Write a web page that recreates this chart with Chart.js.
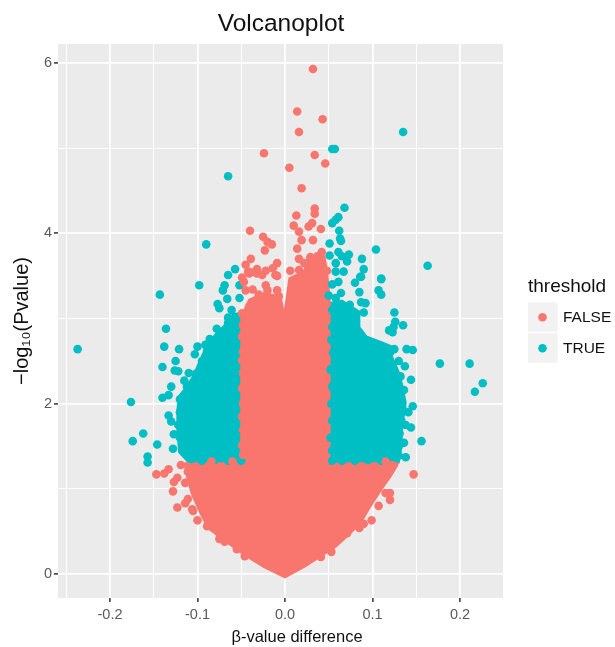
<!DOCTYPE html>
<html>
<head>
<meta charset="utf-8">
<style>html,body{margin:0;padding:0;background:#fff}canvas{display:block}</style>
<script src="https://cdn.jsdelivr.net/npm/chart.js@4"></script>
</head>
<body>
<canvas id="c" width="615" height="647"></canvas>
<script>
const seriesNames = ['FALSE', 'TRUE'];
const seriesColors = ['#F8766D', '#00BFC4'];
const legendTitle = 'threshold';
const xAxisTitle = 'β-value difference';
const xTickValues = [-0.2, -0.1, 0, 0.1, 0.2];
const xTickLabels = ['-0.2', '-0.1', '0.0', '0.1', '0.2'];
const yTickValues = [0, 2, 4, 6];
const yTickLabels = ['0', '2', '4', '6'];

// Points that can be told apart in the picture
const falsePoints = [
[.032,5.93],[.014,5.43],[.043,5.34],[.016,5.19],[-.024,4.94],[.034,4.92],[.005,4.77],[.046,4.82],[.019,4.53],
[-.040,4.03],[-.025,3.96],[-.020,3.90],[-.015,3.87],[-.023,3.80],[-.039,3.70],[-.045,3.63],[-.042,3.55],[-.032,3.58],
[-.022,3.56],[-.009,3.65],[-.014,3.59],[-.039,3.54],[-.026,3.51],[-.009,3.50],[-.049,3.48],
[.034,4.29],[.034,4.23],[.013,4.21],[.031,4.12],[.027,4.08],[.010,4.09],[.016,4.02],[.041,4.05],[.019,3.92],[.032,3.92],
[.014,3.82],[.016,3.70],[.029,3.72],[.042,3.78],[.037,3.73],[.041,3.69],[.022,3.65],[.006,3.56],[.048,3.56],[.043,3.56],
[.031,3.61],[.016,3.57],[.024,3.53],
[-.047,3.43],[-.045,3.33],[-.037,3.34],[-.030,3.28],[-.022,3.39],[-.020,3.33],[-.009,3.33],[-.007,3.26],[-.032,3.53],
[-.011,3.51],[-.041,3.53],[-.041,3.14],[-.049,3.06],[-.048,2.92],[-.049,2.79],[-.048,2.61],[-.049,2.51],[-.048,2.36],
[-.049,2.18],[-.048,2.0],[-.049,1.85],[-.048,1.69],[-.049,1.51],[-.048,1.4],[-.026,3.18],
[-.147,1.17],[-.138,1.18],[-.133,1.23],[-.127,1.08],[-.123,1.13],[-.128,.97],[-.114,1.07],[-.111,.88],[-.114,.83],
[-.123,.78],[-.119,1.28],[-.106,.76],[-.105,.74],[-.100,.63],[-.089,.56],[-.075,.41],[-.069,.38],[-.055,.29],[-.046,.21],
[.147,1.17],[.115,.95],[.120,.95],[.120,.87],[.107,.80],[.099,.63],[.085,.54],[.090,.59],[.053,.26],[.041,.20],[.071,.48],
[-.084,1.32],[-.060,1.32],[.115,1.32],
[-.111,1.2],[-.108,1.1],[-.103,.98],[-.094,.85],[-.086,.72],[-.074,.6],[-.058,.48],[-.041,.33],[-.026,.22],[-.012,.12],
[0,.04],[.012,.14],[.025,.23],[.04,.33],[.055,.42],[.07,.56],[.08,.68],[.09,.81],[.098,.97],[.106,1.09],[.116,1.21],[.123,1.28]
];
const truePoints = [
[.135,5.19],[.054,4.99],[.057,4.99],[-.065,4.67],[.068,4.30],[.061,4.19],[.058,4.16],[.054,4.12],[.062,4.03],[.063,3.94],
[.064,3.91],[.051,3.88],[.104,3.81],[-.090,3.87],[.163,3.62],[.061,3.78],[.051,3.74],[.073,3.75],[.088,3.70],[.090,3.58],
[.086,3.49],[.110,3.47],[.071,3.67],[.065,3.73],[.058,3.65],[.067,3.55],[.058,3.55],[-.057,3.58],[-.065,3.51],[-.143,3.28],
[-.098,3.39],[-.071,3.33],[-.069,3.39],[-.052,3.39],[-.066,3.23],[-.052,3.24],[-.077,3.17],[-.075,3.12],[-.061,3.10],
[-.065,3.01],[-.078,2.88],[-.086,2.76],[-.091,2.69],[-.136,2.88],[-.138,2.67],[-.121,2.64],[-.237,2.64],[-.125,2.50],
[-.140,2.43],[-.126,2.39],[-.122,2.38],[-.110,2.36],[-.115,2.27],[-.130,2.20],[-.133,2.10],[-.140,2.07],[-.176,2.02],
[-.133,1.86],[-.130,1.79],[-.162,1.65],[-.174,1.56],[-.146,1.52],[-.127,1.64],[-.128,1.47],[-.157,1.38],[-.157,1.31],
[-.100,2.67],[-.103,2.58],
[.110,3.46],[.107,3.33],[.110,3.28],[.087,3.49],[.080,3.42],[.085,3.31],[.061,3.43],[.054,3.40],[.050,3.27],[.064,3.30],
[.087,3.19],[.092,3.18],[.074,3.16],[.090,3.07],[.125,3.07],[.126,2.96],[.135,2.92],[.119,2.86],[.123,2.84],[.124,2.90],
[.139,2.64],[.146,2.63],[.125,2.64],[.130,2.50],[.137,2.44],[.144,2.28],[.132,2.32],[.177,2.47],[.211,2.47],[.226,2.24],
[.217,2.14],[.146,1.97],[.141,1.90],[.136,2.16],[.144,1.72],[.156,1.56],[.138,1.37],[.136,1.54],[.138,1.75],
[-.120,2.05],[-.120,1.9],[-.122,1.75],[-.120,1.6],[-.117,1.45],[-.107,1.35],[-.095,1.33],[-.08,1.34],[-.065,1.33],[-.05,1.33],
[-.112,2.2],[-.102,2.35],[-.095,2.5],[-.089,2.62],[-.08,2.72],[-.072,2.82],[-.065,2.95],[-.057,3.02],
[.054,1.33],[.065,1.33],[.08,1.33],[.095,1.34],[.11,1.33],[.125,1.35],[.130,1.39],[.130,1.5],[.131,1.65],[.133,1.8],[.134,1.95],
[.132,2.1],[.127,2.2],[.122,2.35],[.117,2.5],[.112,2.6],[.102,2.66],[.092,2.72],[.082,2.78],[.078,2.88],[.079,3.0],[.07,3.06],[.06,3.12],[.054,3.1],
[.054,2.9],[.053,2.75],[.055,2.6],[.052,2.4],[.054,2.2],[.053,2.0],[.054,1.8],[.052,1.6],[.054,1.45],[.058,3.24]
];

// Outlines of the areas where the points overlap into solid colour
const falseSolidOutline = [
[-.115,1.30],[-.111,1.10],[-.106,.93],[-.097,.72],[-.088,.54],[-.073,.42],[-.058,.31],[-.041,.19],[-.024,.08],[0,-.04],
[.023,.09],[.041,.21],[.058,.32],[.073,.46],[.087,.61],[.098,.80],[.110,.99],[.121,1.15],[.128,1.27],[.129,1.30],
[.051,1.30],[.051,3.22],[.048,3.57],[.045,3.73],[.026,3.71],[.022,3.56],[.005,3.47],[.002,3.25],[-.001,3.04],[-.005,3.26],
[-.024,3.30],[-.041,3.22],[-.047,3.08],[-.050,3.0],[-.050,1.30],[-.115,1.30]
];
const trueSolidLeft = [
[-.049,3.08],[-.061,3.03],[-.070,2.91],[-.079,2.82],[-.089,2.69],[-.098,2.49],[-.105,2.32],[-.114,2.18],[-.121,2.09],
[-.123,1.93],[-.123,1.69],[-.121,1.43],[-.110,1.31],[-.049,1.30],[-.049,3.08]
];
const trueSolidRight = [
[.050,3.18],[.065,3.21],[.085,3.08],[.085,2.90],[.093,2.79],[.111,2.72],[.127,2.65],[.122,2.56],[.125,2.49],[.130,2.37],
[.134,2.22],[.138,2.01],[.134,1.73],[.133,1.49],[.130,1.31],[.050,1.30],[.050,3.18]
];

const toXY = a => a.map(p => ({x: p[0], y: p[1]}));
const solid = (label, pts, color, order) => ({
  label, data: toXY(pts), showLine: true, fill: 'shape', tension: 0,
  borderColor: color, backgroundColor: color, borderWidth: 2, pointRadius: 0, pointHoverRadius: 0, order
});
const dots = (label, pts, color, order) => ({
  label, data: toXY(pts), pointStyle: 'circle', pointRadius: 4.3, pointHoverRadius: 4.3,
  pointBorderWidth: 0, borderWidth: 0, borderColor: color, backgroundColor: color, pointBackgroundColor: color, showLine: false, order
});
const near = (a, b) => Math.abs(a - b) < 1e-6;
const isMajor = (vals, v) => vals.some(t => near(t, v));
const labelFor = (vals, labels, v) => { const i = vals.findIndex(t => near(t, v)); return i < 0 ? '' : labels[i]; };

const panelAndLegend = {
  id: 'panelAndLegend',
  beforeDraw(chart) {
    const ctx = chart.ctx, a = chart.chartArea;
    ctx.save();
    ctx.fillStyle = '#ebebeb';
    ctx.fillRect(a.left, a.top, a.right - a.left, a.bottom - a.top);
    ctx.fillStyle = '#111';
    ctx.textBaseline = 'middle';
    ctx.textAlign = 'center';
    ctx.font = '16.5px "Liberation Sans"';
    ctx.fillText(xAxisTitle, 297, 637);
    ctx.textAlign = 'left';
    ctx.font = '19px "Liberation Sans"';
    ctx.fillText(legendTitle, 528, 287);
    seriesNames.forEach((name, i) => {
      const cy = 317.3 + i * 31;
      ctx.fillStyle = '#f2f2f2';
      ctx.fillRect(528, cy - 15, 29.5, 29.5);
      ctx.fillStyle = seriesColors[i];
      ctx.beginPath();
      ctx.arc(542.5, cy, 4.3, 0, Math.PI * 2);
      ctx.fill();
      ctx.fillStyle = '#111';
      ctx.font = '15.5px "Liberation Sans"';
      ctx.fillText(name, 563, cy);
    });
    ctx.restore();
  }
};

new Chart(document.getElementById('c'), {
  type: 'scatter',
  data: { datasets: [
    dots(seriesNames[0], falsePoints, seriesColors[0], 0),
    dots(seriesNames[1], truePoints, seriesColors[1], 1),
    solid('solid FALSE', falseSolidOutline, seriesColors[0], 2),
    solid('solid TRUE left', trueSolidLeft, seriesColors[1], 3),
    solid('solid TRUE right', trueSolidRight, seriesColors[1], 3)
  ]},
  plugins: [panelAndLegend],
  options: {
    responsive: false,
    animation: false,
    layout: { padding: { left: 0, right: 111, top: 0, bottom: 0 } },
    plugins: {
      tooltip: { enabled: false },
      legend: { display: false },
      title: {
        display: true, text: 'Volcanoplot', fullSize: false, color: '#111',
        font: { family: '"Liberation Sans"', size: 24.5, weight: 'normal', lineHeight: 1.2 },
        padding: { top: 10, bottom: 4.6 }
      }
    },
    scales: {
      x: {
        type: 'linear', min: -0.2594, max: 0.2503,
        afterFit: s => { s.height = 49; },
        grid: {
          color: '#fff', drawTicks: true, tickLength: 4,
          lineWidth: c => isMajor(xTickValues, c.tick.value) ? 1.8 : 1,
          tickColor: c => isMajor(xTickValues, c.tick.value) ? '#333' : 'rgba(0,0,0,0)', tickWidth: 1.5
        },
        border: { display: false },
        ticks: { stepSize: 0.05, includeBounds: false, autoSkip: false, maxRotation: 0, padding: 4, color: '#5a5a5a',
          font: { family: '"Liberation Sans"', size: 14.5 },
          callback: v => labelFor(xTickValues, xTickLabels, v) }
      },
      y: {
        type: 'linear', min: -0.282, max: 6.223,
        afterFit: s => { s.width = 58; },
        grid: {
          color: '#fff', drawTicks: true, tickLength: 4,
          lineWidth: c => isMajor(yTickValues, c.tick.value) ? 1.8 : 1,
          tickColor: c => isMajor(yTickValues, c.tick.value) ? '#333' : 'rgba(0,0,0,0)', tickWidth: 1.5
        },
        border: { display: false },
        ticks: { stepSize: 1, includeBounds: false, autoSkip: false, padding: 2, color: '#5a5a5a',
          font: { family: '"Liberation Sans"', size: 14.5 },
          callback: v => labelFor(yTickValues, yTickLabels, v) },
        title: { display: true, text: '−log₁₀(Pvalue)', color: '#111',
          font: { family: '"Liberation Sans"', size: 20 }, padding: { top: 10, bottom: 0 } }
      }
    }
  }
});
</script>
</body>
</html>
